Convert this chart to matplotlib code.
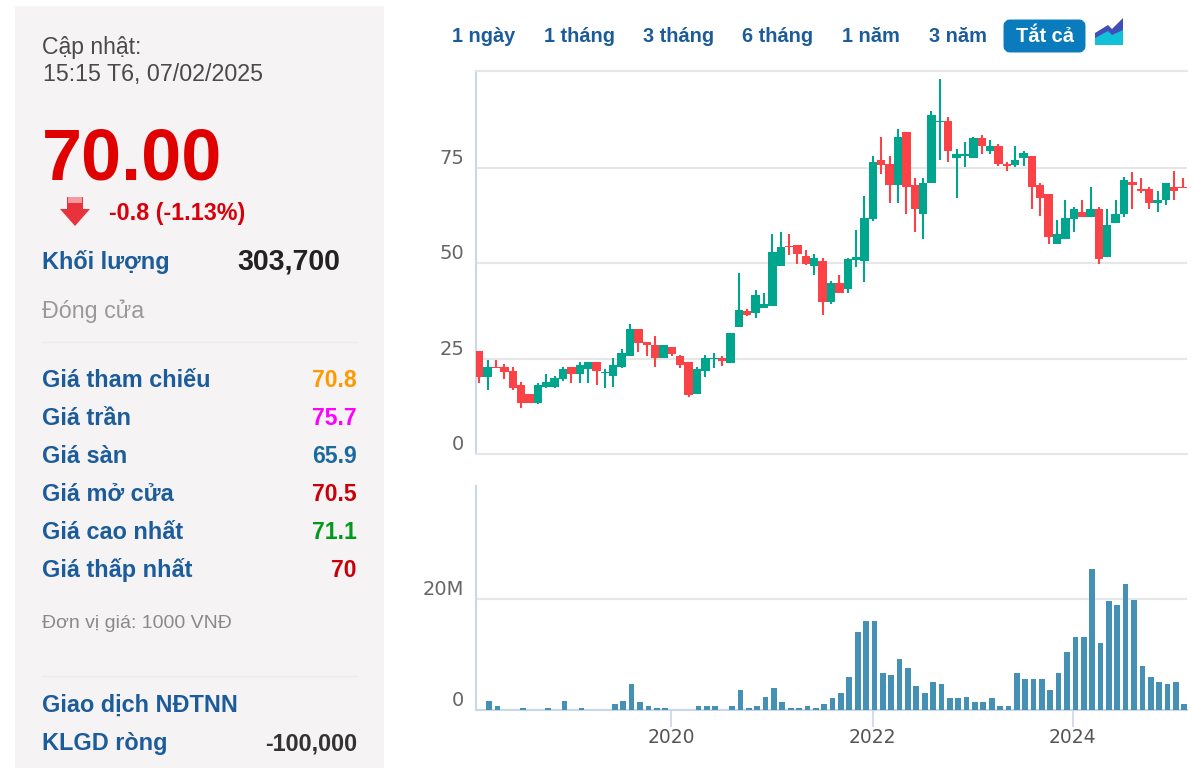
import matplotlib
matplotlib.use("Agg")
import matplotlib.pyplot as plt
from matplotlib.patches import Rectangle, FancyBboxPatch, Polygon

plt.rcParams['font.family'] = ['Liberation Sans', 'DejaVu Sans']

# ---- data ----
candle_high = [27.1,24.7,24.7,23.7,22.7,19.0,15.8,18.6,20.9,20.4,22.8,22.8,24.1,24.2,24.2,22.4,25.1,27.5,34.2,32.7,29.5,30.9,28.5,28.2,26.0,24.2,22.8,26.0,26.5,25.6,31.7,47.5,38.0,43.1,42.2,57.8,58.2,57.8,54.9,53.5,52.5,51.4,45.5,46.9,
               51.4,58.7,67.7,78.1,83.3,78.1,85.2,84.6,72.4,72.4,89.9,98.3,88.4,80.0,81.8,83.3,83.7,82.3,81.4,76.7,80.9,79.5,78.1,71.2,68.2,61.5,66.7,64.9,66.7,70.1,64.9,64.4,66.7,72.8,73.9,72.5,70.0,69.1,71.0,74.3,72.5]
candle_top = [27.1,22.7,22.8,22.7,21.9,18.1,15.8,18.1,19.0,20.0,22.4,22.7,23.3,24.2,24.2,21.6,23.3,26.6,32.7,32.7,29.4,28.5,28.5,28.0,25.6,24.2,22.3,25.1,25.3,25.3,31.7,37.9,37.4,41.7,39.3,53.1,54.4,54.7,54.9,52.0,51.5,50.6,45.0,45.0,
              51.1,51.6,61.9,76.7,77.2,76.1,83.2,84.6,70.5,71.0,88.9,87.5,87.5,78.6,78.6,82.8,82.8,80.9,80.9,76.2,77.1,79.0,78.1,70.5,68.2,57.8,62.0,64.4,63.5,64.4,64.4,60.1,62.9,71.9,71.5,69.6,69.6,66.7,71.0,70.0,70.1]
candle_bottom = [20.1,20.1,22.5,21.6,17.2,13.5,13.5,13.5,17.7,17.7,19.7,21.1,21.1,22.4,21.9,21.2,20.5,22.8,25.8,29.1,28.7,25.3,25.3,26.3,23.4,15.4,15.8,21.9,24.9,24.4,23.9,33.3,36.5,37.1,38.4,38.9,49.3,54.2,52.6,49.9,49.3,39.9,39.9,42.2,
                 43.2,50.8,50.7,61.6,75.8,70.5,70.5,70.1,64.4,63.0,71.1,87.1,79.5,77.6,78.1,77.6,80.9,79.5,76.2,75.7,75.8,77.6,70.1,67.2,57.0,55.0,56.4,61.6,62.1,62.1,51.2,51.7,60.7,63.0,70.5,69.0,65.8,65.8,66.7,69.1,69.7]
candle_low = [18.6,16.9,22.5,19.7,16.7,12.1,13.5,13.0,17.2,17.2,19.1,18.6,18.6,18.6,18.2,17.2,17.7,22.5,25.8,26.7,25.6,22.8,25.3,25.8,22.5,14.9,15.8,20.1,22.5,23.0,23.9,33.3,36.1,35.7,38.2,38.9,49.3,52.1,49.8,49.5,46.9,36.6,39.4,42.2,
              42.2,49.2,45.1,61.1,73.4,65.8,65.8,63.0,58.3,56.4,71.1,77.2,76.7,67.3,75.3,77.6,78.6,78.6,75.7,74.3,75.3,75.7,64.4,62.5,55.0,55.0,56.4,58.3,62.1,62.1,49.8,51.7,60.7,62.1,64.4,68.6,64.4,63.5,65.4,66.7,69.7]
candle_direction = ("duddddduuu" "uduuduuuud" "dduddduuud" "uuduuuuddd" "ududuuuudd"
                    "udduuuduuu" "dudduudddu" "uududuuudd" "duudd")
volume_m = [0,1.6,0.66,0,0,0.3,0,0,0.3,0,1.6,0,0.3,0,0,0,1.0,1.6,4.6,1.3,0.66,0.3,0.3,0,0,0,0.66,0.66,0.66,0,0.66,3.6,0.3,0.66,2.3,3.9,1.3,0.3,0.3,0.66,0.3,1.0,2.0,2.9,
            5.9,13.9,15.9,15.9,6.5,6.2,9.1,7.4,4.2,2.9,4.9,4.6,2.0,2.0,2.3,1.3,1.3,2.0,0.66,0.66,6.5,5.5,5.5,5.5,3.6,6.5,10.4,13.0,13.0,25.3,12.0,19.5,18.8,22.7,19.8,7.8,5.8,4.9,4.6,4.9,1.0]
price_ticks = [0, 25, 50, 75]
volume_ticks = [0, 20]
volume_tick_labels = ['0', '20M']
year_ticks = [22.7, 46.8, 70.7]
year_labels = ['2020', '2022', '2024']
ranges = ['1 ngày', '1 tháng', '3 tháng', '6 tháng', '1 năm', '3 năm']
range_x = [484, 580, 679, 778, 871, 958]
rows = ['Giá tham chiếu', 'Giá trần', 'Giá sàn', 'Giá mở cửa', 'Giá cao nhất', 'Giá thấp nhất']
row_values = ['70.8', '75.7', '65.9', '70.5', '71.1', '70']
row_colors = ['#ff9900', '#ff00ff', '#1a6aa0', '#c8000a', '#009a1a', '#c8000a']
row_base = [387, 425, 463, 501, 539, 577]

W, H = 1202, 768
RED, GREEN, BAR = '#fb4247', '#00a58e', '#4590b5'
AXIS, GRID, LABEL = '#ccd6eb', '#e6e6e6', '#666666'
BLUE = '#1c5c9a'

fig = plt.figure(figsize=(W/100, H/100), dpi=100, facecolor='white')

def axes_px(l, t, r, b):
    return fig.add_axes([l/W, 1-b/H, (r-l)/W, (b-t)/H])

# ---- overlay in pixel coordinates ----
bg = fig.add_axes([0, 0, 1, 1])
bg.set_xlim(0, W); bg.set_ylim(H, 0); bg.axis('off')
bg.add_patch(Rectangle((15, 6), 369, 762, fc='#f5f3f4', ec='none'))
for y in (342, 676):
    bg.plot([42, 357], [y, y], color='#eceaeb', lw=1)

def t(x, y, s, size, color, weight='normal', ha='left'):
    bg.text(x, y, s, fontsize=size*0.72, color=color, fontweight=weight, ha=ha, va='baseline')

t(42, 54, 'Cập nhật:', 23, '#4a4a4a')
t(43, 81, '15:15 T6, 07/02/2025', 23.3, '#4a4a4a')
t(42, 180, '70.00', 72, '#e00000', 'bold')
t(109, 220, '-0.8 (-1.13%)', 23.2, '#d8000a', 'bold')
t(42, 269, 'Khối lượng', 23.5, BLUE, 'bold')
t(340, 269, '303,700', 28.5, '#222222', 'bold', 'right')
t(42, 318, 'Đóng cửa', 23.3, '#999999')
for lab, val, col, yb in zip(rows, row_values, row_colors, row_base):
    t(42, yb, lab, 23.5, BLUE, 'bold')
    t(357, yb, val, 23, col, 'bold', 'right')
t(42, 628, 'Đơn vị giá: 1000 VNĐ', 19.5, '#8a8a8a')
t(42, 712, 'Giao dịch NĐTNN', 23.5, BLUE, 'bold')
t(42, 750, 'KLGD ròng', 23.5, BLUE, 'bold')
t(357, 750, '-100,000', 23.2, '#333333', 'bold', 'right')

# arrow icon
bg.add_patch(Polygon([[67, 197], [83, 197], [83, 209], [90, 209], [75, 226], [60, 209], [67, 209]],
                     closed=True, fc='#e8323c', ec='none'))
bg.add_patch(Rectangle((68, 197), 14, 6, fc='#f49aa0', ec='none'))

# range selector
for s, x in zip(ranges, range_x):
    t(x, 42, s, 20, BLUE, 'bold', 'center')
bg.add_patch(FancyBboxPatch((1007, 23), 75, 26, boxstyle='round,pad=0,rounding_size=3',
                            mutation_aspect=1, fc='#0a7bbd', ec='#0a7bbd', lw=5))
t(1044.5, 42, 'Tắt cả', 20, 'white', 'bold', 'center')
bg.add_patch(Polygon([[1095, 33], [1108, 25], [1112, 29], [1123, 18], [1123, 33], [1112, 37], [1108, 33], [1095, 41]],
                     closed=True, fc='#3f4fb5', ec='none'))
bg.add_patch(Polygon([[1095, 38], [1108, 31], [1112, 35], [1123, 30], [1123, 45], [1095, 45]],
                     closed=True, fc='#12c0d8', ec='none'))

# ---- price candles ----
xlim = (-0.585, 84.33)
n = len(candle_high)
x_candle = [i - 0.19 for i in range(n)]
ax = axes_px(476, 71, 1187, 454)
ax.patch.set_alpha(0)
colors = [GREEN if d == 'u' else RED for d in candle_direction]
ax.vlines(x_candle, candle_low, candle_high, colors=colors, lw=1.5, zorder=3)
ax.bar(x_candle, [a-b for a, b in zip(candle_top, candle_bottom)], bottom=candle_bottom,
       width=1.0, color=colors, linewidth=0, zorder=4)
ax.set_xlim(*xlim)
ax.set_ylim(0, 100.5)
ax.set_yticks(price_ticks)
ax.set_yticklabels([str(v) for v in price_ticks], va='bottom')
ax.set_xticks([])
ax.grid(axis='y', color=GRID, lw=1.5)
ax.set_axisbelow(True)
ax.tick_params(axis='y', length=0, pad=8.5, labelsize=14, labelcolor=LABEL)
for lab in ax.get_yticklabels():
    lab.set_fontfamily('DejaVu Sans')
ax.spines['right'].set_visible(False)
ax.spines['left'].set_color(AXIS); ax.spines['left'].set_linewidth(1.5)
ax.spines['top'].set_color(GRID); ax.spines['top'].set_linewidth(1.5)
ax.spines['bottom'].set_color(GRID); ax.spines['bottom'].set_linewidth(1.5)

# ---- volume ----
av = axes_px(476, 486, 1187, 709.5)
av.patch.set_alpha(0)
av.bar(range(n), volume_m, width=0.68, color=BAR, linewidth=0, zorder=3)
av.set_xlim(*xlim)
av.set_ylim(0, 40.3)
av.set_yticks(volume_ticks)
av.set_yticklabels(volume_tick_labels, va='bottom')
av.set_xticks(year_ticks)
av.set_xticklabels(year_labels)
av.grid(axis='y', color=GRID, lw=1.5)
av.set_axisbelow(True)
av.tick_params(axis='y', length=0, pad=8.5, labelsize=14, labelcolor=LABEL)
av.tick_params(axis='x', length=12.2, width=1.2, color=AXIS, pad=1, labelsize=13.5, labelcolor='#555555')
for lab in av.get_xticklabels() + av.get_yticklabels():
    lab.set_fontfamily('DejaVu Sans')
av.spines['right'].set_visible(False); av.spines['top'].set_visible(False)
av.spines['left'].set_color(AXIS); av.spines['left'].set_linewidth(1.5)
av.spines['bottom'].set_color(AXIS); av.spines['bottom'].set_linewidth(1.5)

fig.savefig('out.png', dpi=100)
print(n, len(candle_direction))
